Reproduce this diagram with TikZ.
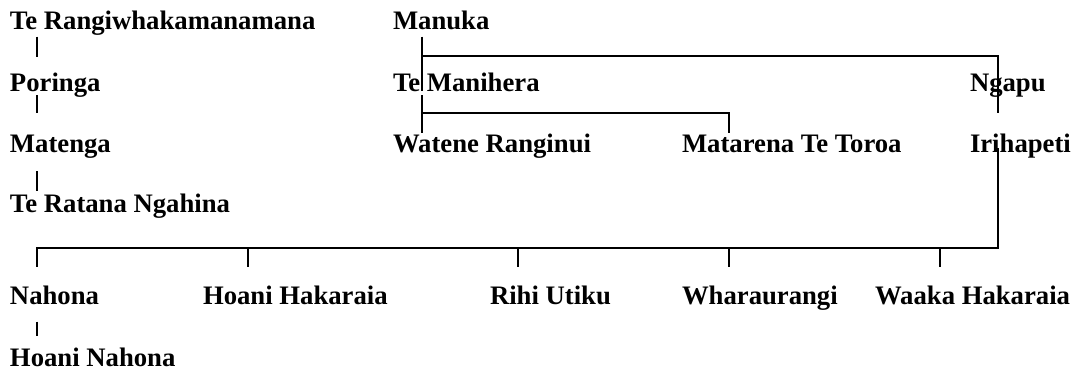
\documentclass[tikz,border=0pt]{standalone}
\usepackage{fontspec}
\setmainfont{Liberation Serif}
\begin{document}
\begin{tikzpicture}[x=0.5pt,y=-0.5pt,
  person/.style={anchor=base west, inner sep=0pt, outer sep=0pt, font=\fontsize{13.35}{15}\selectfont\bfseries},
  link/.style={line width=1pt, line cap=butt, line join=miter}]
\useasboundingbox[fill=white] (0,0) rectangle (1073,372);
% people
\node[person] (rangi) at (10,29) {Te Rangiwhakamanamana};
\node[person] (poringa) at (10,91) {Poringa};
\node[person] (matenga) at (10,152) {Matenga};
\node[person] (ratana) at (10,212) {Te Ratana Ngahina};
\node[person] (manuka) at (393,29) {Manuka};
\node[person] (manihera) at (393,91) {Te Manihera};
\node[person] (watene) at (393,152) {Watene Ranginui};
\node[person] (matarena) at (682,152) {Matarena Te Toroa};
\node[person] (ngapu) at (970,91) {Ngapu};
\node[person] (irihapeti) at (970,152) {Irihapeti};
\node[person] (nahona) at (10,304) {Nahona};
\node[person] (hoanih) at (203,304) {Hoani Hakaraia};
\node[person] (rihi) at (490,304) {Rihi Utiku};
\node[person] (whara) at (682,304) {Wharaurangi};
\node[person] (waaka) at (875,304) {Waaka Hakaraia};
\node[person] (hoanin) at (10,366) {Hoani Nahona};
% junction points
\coordinate (r1) at (37.3,36.5);   \coordinate (r2) at (37.3,57);
\coordinate (p1) at (37.3,95);     \coordinate (p2) at (37.3,113);
\coordinate (m1) at (37.3,171);    \coordinate (m2) at (37.3,191);
\coordinate (mk1) at (421.7,36.7); \coordinate (mk2) at (421.7,91);
\coordinate (mkj) at (421.7,55.7); \coordinate (ngt) at (997.7,55.7);
\coordinate (ngb) at (997.7,113.3);
\coordinate (mh1) at (421.7,95);   \coordinate (mh2) at (421.7,132.7);
\coordinate (mhj) at (421.7,113.3);\coordinate (mtt) at (729,113.3);
\coordinate (mtb) at (729,132.7);
\coordinate (ir1) at (997.7,148);  \coordinate (irc) at (997.7,247.7);
\coordinate (bl) at (37.3,247.7);  \coordinate (nah) at (37.3,267.3);
\coordinate (hh1) at (248.3,247.7);\coordinate (hh2) at (248.3,267.3);
\coordinate (ru1) at (517.7,247.7);\coordinate (ru2) at (517.7,267.3);
\coordinate (wh1) at (729,247.7);  \coordinate (wh2) at (729,267.3);
\coordinate (wk1) at (940,247.7);  \coordinate (wk2) at (940,267.3);
\coordinate (n1) at (37.3,321.7);  \coordinate (n2) at (37.3,336);
% connectors
\draw[link] (r1) -- (r2);
\draw[link] (p1) -- (p2);
\draw[link] (m1) -- (m2);
\draw[link] (mk1) -- (mk2);
\draw[link] (mkj) -- (ngt) -- (ngb);
\draw[link] (mh1) -- (mh2);
\draw[link] (mhj) -- (mtt) -- (mtb);
\draw[link] (ir1) -- (irc) -- (bl) -- (nah);
\draw[link] (hh1) -- (hh2);
\draw[link] (ru1) -- (ru2);
\draw[link] (wh1) -- (wh2);
\draw[link] (wk1) -- (wk2);
\draw[link] (n1) -- (n2);
\end{tikzpicture}
\end{document}
